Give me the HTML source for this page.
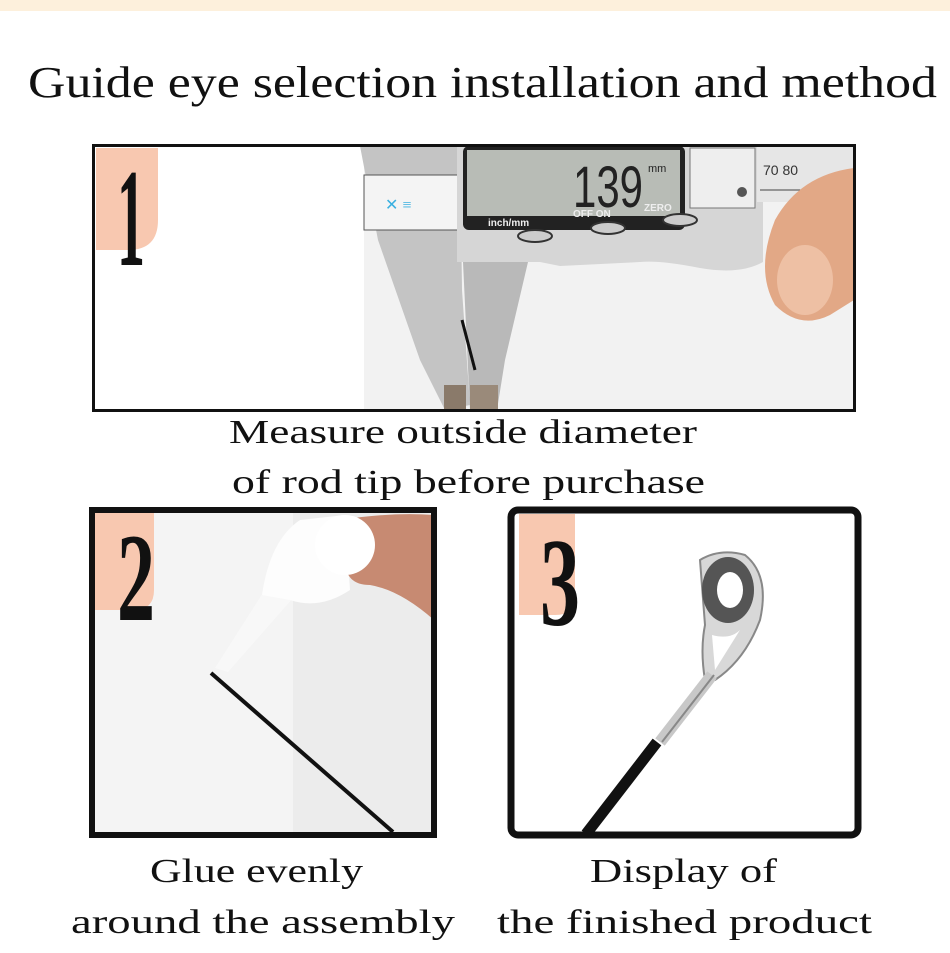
<!DOCTYPE html>
<html><head><meta charset="utf-8"><style>
html,body{margin:0;padding:0;background:#fff;}
svg{display:block;}
text{font-family:"Liberation Serif",serif;fill:#111;}
</style></head><body>
<svg width="950" height="953" viewBox="0 0 950 953" xmlns="http://www.w3.org/2000/svg">
<rect x="0" y="0" width="950" height="11" fill="#fdf0dc"/>
<text x="28" y="97" font-size="44" textLength="909" lengthAdjust="spacingAndGlyphs">Guide eye selection installation and method</text>

<rect x="94" y="146" width="760" height="264" fill="#fff"/>
<rect x="360" y="146" width="494" height="264" fill="#f2f2f2"/>
<rect x="94" y="146" width="270" height="264" fill="#fff"/>
<polygon points="360,146 460,146 462,290 470,405 445,410 420,360 378,240" fill="#c4c4c4"/>
<polygon points="463,262 528,262 505,360 497,410 470,410" fill="#b9b9b9"/>
<rect x="444" y="385" width="22" height="25" fill="#8a7a6a"/>
<rect x="470" y="385" width="28" height="25" fill="#9a8a7a"/>
<line x1="462" y1="320" x2="475" y2="370" stroke="#111" stroke-width="3"/>
<rect x="364" y="175" width="100" height="55" fill="#f4f4f4" stroke="#555" stroke-width="1"/>
<text x="385" y="210" font-size="16" style="fill:#3ab0e0">✕ ≡</text>
<path d="M457,146 L763,146 L763,262 Q740,275 700,268 Q660,260 640,262 L560,266 L540,262 L457,262 Z" fill="#d6d6d6"/>
<rect x="463" y="146" width="222" height="84" rx="6" fill="#222"/>
<rect x="467" y="150" width="213" height="66" fill="#b8bcb6"/>
<text x="573" y="207" font-size="58" textLength="70" lengthAdjust="spacingAndGlyphs" style="font-family:'Liberation Sans',sans-serif;fill:#222">139</text>
<text x="648" y="172" font-size="11" style="font-family:'Liberation Sans',sans-serif;fill:#222">mm</text>
<text x="488" y="226" font-size="10" style="font-family:'Liberation Sans',sans-serif;fill:#eee;font-weight:bold">inch/mm</text>
<text x="573" y="217" font-size="10" style="font-family:'Liberation Sans',sans-serif;fill:#eee;font-weight:bold">OFF  ON</text>
<text x="644" y="211" font-size="10" style="font-family:'Liberation Sans',sans-serif;fill:#eee;font-weight:bold">ZERO</text>
<ellipse cx="535" cy="236" rx="17" ry="6" fill="#ccc" stroke="#333" stroke-width="2"/>
<ellipse cx="608" cy="228" rx="17" ry="6" fill="#ccc" stroke="#333" stroke-width="2"/>
<ellipse cx="680" cy="220" rx="17" ry="6" fill="#ccc" stroke="#333" stroke-width="2"/>
<rect x="690" y="148" width="65" height="60" fill="#eee" stroke="#777"/>
<circle cx="742" cy="192" r="5" fill="#555"/>
<rect x="757" y="146" width="97" height="56" fill="#e6e6e6"/>
<text x="763" y="175" font-size="14" style="font-family:'Liberation Sans',sans-serif;fill:#333">70    80</text>
<path d="M760,190 h90" stroke="#444" stroke-width="1"/>
<path d="M854,168 Q800,175 775,220 Q755,270 775,305 Q800,330 830,315 L854,300 Z" fill="#e2a886"/>
<ellipse cx="805" cy="280" rx="28" ry="35" fill="#eec0a4"/>
<path d="M96,148 L158,148 L158,220 Q158,250 128,250 L96,250 Z" fill="#f8c8b0"/>
<text x="117" y="265" font-size="140" font-weight="bold" textLength="28" lengthAdjust="spacingAndGlyphs">1</text>
<rect x="93.5" y="145.5" width="761" height="265" fill="none" stroke="#111" stroke-width="3"/>

<text x="229" y="443" font-size="34" textLength="468" lengthAdjust="spacingAndGlyphs">Measure outside diameter</text>
<text x="232" y="493" font-size="34" textLength="473" lengthAdjust="spacingAndGlyphs">of rod tip before purchase</text>

<rect x="93" y="511" width="341" height="323" fill="#ececec"/>
<rect x="93" y="511" width="200" height="323" fill="#f4f4f4"/>
<path d="M215,668 L268,585 L300,590 L228,672 Z" fill="#f8f8f8"/>
<path d="M262,595 Q270,540 300,520 L345,515 L350,590 Q320,610 290,600 Z" fill="#fdfdfd"/>
<path d="M340,520 Q390,512 434,515 L434,620 Q400,590 370,585 Q345,585 345,560 Z" fill="#c78a72"/>
<ellipse cx="345" cy="545" rx="30" ry="30" fill="#fff"/>
<line x1="211" y1="673" x2="393" y2="832" stroke="#111" stroke-width="4"/>
<path d="M95,513 L154,513 L154,590 Q154,610 134,610 L95,610 Z" fill="#f8c8b0"/>
<text x="117" y="620" font-size="126" font-weight="bold" textLength="38" lengthAdjust="spacingAndGlyphs">2</text>
<rect x="92" y="510" width="342" height="325" fill="none" stroke="#111" stroke-width="6"/>

<rect x="512" y="511" width="346" height="322" fill="#fff"/>
<path d="M519,514 L575,514 L575,595 Q575,615 555,615 L519,615 Z" fill="#f8c8b0"/>
<text x="540" y="625" font-size="126" font-weight="bold" textLength="40" lengthAdjust="spacingAndGlyphs">3</text>
<path d="M700,560 Q720,548 745,555 Q770,575 760,620 Q745,660 715,680 L705,680 Q700,650 705,625 Z" fill="#d8d8d8" stroke="#888" stroke-width="2"/>
<path d="M712,635 Q730,640 740,630 L715,670 Z" fill="#fff"/>
<ellipse cx="728" cy="590" rx="26" ry="33" fill="#555"/>
<ellipse cx="730" cy="590" rx="13" ry="18" fill="#fff"/>
<line x1="712" y1="675" x2="660" y2="742" stroke="#c8c8c8" stroke-width="12"/>
<line x1="714" y1="675" x2="662" y2="742" stroke="#888" stroke-width="2"/>
<line x1="657" y1="742" x2="586" y2="834" stroke="#111" stroke-width="11"/>
<rect x="511" y="510" width="347" height="325" rx="7" fill="none" stroke="#111" stroke-width="7"/>

<text x="150" y="882" font-size="34" textLength="213" lengthAdjust="spacingAndGlyphs">Glue evenly</text>
<text x="71" y="933" font-size="34" textLength="384" lengthAdjust="spacingAndGlyphs">around the assembly</text>
<text x="590" y="882" font-size="34" textLength="187" lengthAdjust="spacingAndGlyphs">Display of</text>
<text x="497" y="933" font-size="34" textLength="375" lengthAdjust="spacingAndGlyphs">the finished product</text>
</svg>
</body></html>
